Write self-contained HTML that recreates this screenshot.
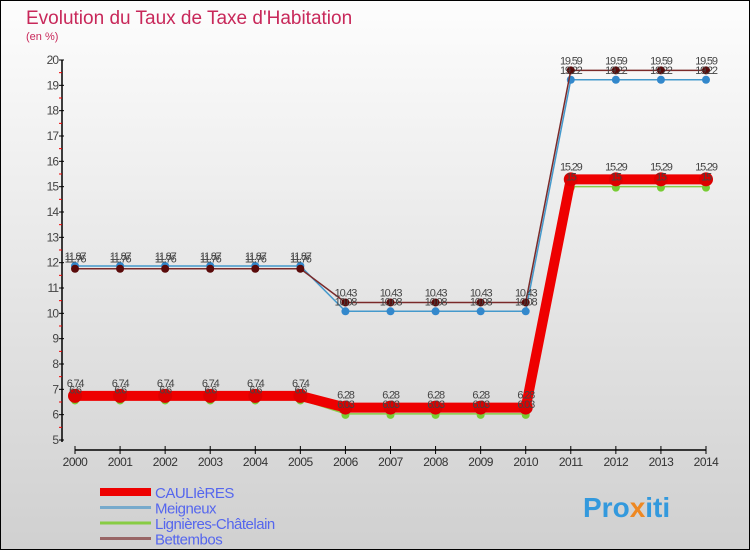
<!DOCTYPE html>
<html><head><meta charset="utf-8"><style>
body{margin:0;}
#wrap{width:750px;height:550px;position:relative;overflow:hidden;font-family:"Liberation Sans",sans-serif;}
</style></head><body>
<div id="wrap">
<svg id="svg" width="750" height="550" xmlns="http://www.w3.org/2000/svg">
<defs><linearGradient id="bg" x1="0" y1="0" x2="0" y2="1">
<stop offset="0" stop-color="#fdfdfd"/><stop offset="1" stop-color="#d0d0d0"/></linearGradient></defs>
<rect x="0.5" y="0.5" width="749" height="549" fill="url(#bg)" stroke="#000"/>
<text x="26" y="24" font-size="19" fill="#c8285a">Evolution du Taux de Taxe d'Habitation</text>
<text x="26" y="40" font-size="11" fill="#c8285a">(en %)</text>
<g id="axes"></g><g id="series"></g><g id="labels"></g><g id="legend"></g>
<text x="583" y="517" font-size="28" font-weight="bold" fill="#3399dd">Pro<tspan fill="#ee8822">x</tspan>iti</text>
</svg>
</div>
<script>
const years=[2000,2001,2002,2003,2004,2005,2006,2007,2008,2009,2010,2011,2012,2013,2014];
const caulieres=[6.74,6.74,6.74,6.74,6.74,6.74,6.28,6.28,6.28,6.28,6.28,15.29,15.29,15.29,15.29];
const meigneux=[11.87,11.87,11.87,11.87,11.87,11.87,10.08,10.08,10.08,10.08,10.08,19.22,19.22,19.22,19.22];
const lignieres=[6.6,6.6,6.6,6.6,6.6,6.6,6.03,6.03,6.03,6.03,6.03,15,15,15,15];
const bettembos=[11.76,11.76,11.76,11.76,11.76,11.76,10.43,10.43,10.43,10.43,10.43,19.59,19.59,19.59,19.59];
const yTicks=[5,6,7,8,9,10,11,12,13,14,15,16,17,18,19,20];
const NS="http://www.w3.org/2000/svg";
const x=i=>75+i*(706-75)/(years.length-1);
const y=v=>440-(v-5)*(380/15);
function mk(tag,attrs,parent){const e=document.createElementNS(NS,tag);for(const k in attrs)e.setAttribute(k,attrs[k]);parent.appendChild(e);return e;}
const axes=document.getElementById('axes'),S=document.getElementById('series'),L=document.getElementById('labels'),G=document.getElementById('legend');
let e=mk('line',{x1:62,y1:y(20),x2:62,y2:y(5)+2,stroke:'#000','stroke-width':1.5},axes);


yTicks.forEach(t=>{
 let l=mk('line',{x1:59,x2:64,y1:y(t),y2:y(t),stroke:'#000'},axes);
 
 
 if(t<20){let m=mk('line',{x1:59,x2:62,y1:y(t+0.5),y2:y(t+0.5),stroke:'#e00'},axes);
 
 }
 let tx=mk('text',{x:58,y:y(t)+4,'text-anchor':'end','font-size':12,fill:'#444','letter-spacing':'-1'},axes);tx.textContent=t;
 
 
});
e=mk('line',{x1:75,y1:450,x2:706,y2:450,stroke:'#000','stroke-width':1.5},axes);


years.forEach((yr,i)=>{
 let l=mk('line',{x1:x(i),x2:x(i),y1:446,y2:454,stroke:'#000'},axes);
 
 
 let tx=mk('text',{x:x(i),y:466,'text-anchor':'middle','font-size':12,fill:'#333','letter-spacing':'-0.5'},axes);tx.textContent=yr;
 
 
});
const series=[
 {name:'bettembos',d:bettembos,c:'#7a2a2a',w:1.5,r:4,dot:'#5a0a0a',lab:true,dy:-6},
 {name:'meigneux',d:meigneux,c:'#4499cc',w:1.5,r:4,dot:'#3388cc',lab:true,dy:-6},
 {name:'lignieres',d:lignieres,c:'#88cc44',w:1.5,r:4,dot:'#77cc33',lab:false,dy:-6},
 {name:'caulieres',d:caulieres,c:'#ee0000',w:10,r:7,dot:'#dd0000',lab:true,dy:-9}
];
// draw lignieres first under caulieres
[series[2],series[3],series[1],series[0]].forEach(s=>{
 let p=mk('polyline',{points:s.d.map((v,i)=>x(i)+','+y(v)).join(' '),fill:'none',stroke:s.c,'stroke-width':s.w},S);
 
 
 s.d.forEach((v,i)=>{
  let c=mk('circle',{cx:x(i),cy:y(v)+(s.name==='lignieres'?1:0),r:s.r,fill:s.dot},S);
  
  
 });
});
series.forEach(s=>{
 s.d.forEach((v,i)=>{
  let t=mk('text',{x:x(i),y:y(v)+s.dy-(s.name==='bettembos'&&i>=6&&i<11?0:0),'text-anchor':'middle','font-size':11,fill:'#444','letter-spacing':'-1.2'},L);
  t.textContent=String(v);
  
  
 });
});
const leg=[['CAULIèRES','#ee0000',8],['Meigneux','#77aacc',3],['Lignières-Châtelain','#88cc44',3],['Bettembos','#996666',3]];
leg.forEach((g,i)=>{
 const yy=492+i*15.5;
 let l=mk('line',{x1:100,x2:151,y1:yy,y2:yy,stroke:g[1],'stroke-width':g[2]},G);
 
 
 let t=mk('text',{x:155,y:yy+6,'font-size':15,fill:'#5566ee','letter-spacing':'-0.5'},G);t.textContent=g[0];
 
 
});
</script>
</body></html>
